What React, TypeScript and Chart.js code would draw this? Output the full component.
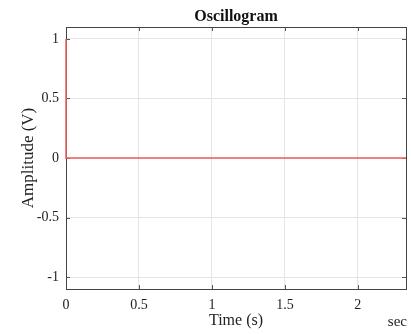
import React, { useEffect, useRef } from "react";
import { Chart, registerables } from "chart.js";

Chart.register(...registerables);

// Signal samples: a unit step that drops to zero at t = 0
const timeSec = [0, 0, 2.33];
const amplitudeV = [1, 0, 0];

const xTicks = [0, 0.5, 1, 1.5, 2];
const yTicks = [-1, -0.5, 0, 0.5, 1];
const xRange = [0, 2.33];
const yRange = [-1.1, 1.1];

const FONT = "'Liberation Serif', 'Times New Roman', serif";

// Boxed frame and inward tick marks, drawn beneath the trace
const framePlugin = {
  id: "frame",
  beforeDatasetsDraw(chart: any) {
    const { ctx, chartArea: a, scales } = chart;
    const xs = scales.x;
    const ys = scales.y;
    ctx.save();
    ctx.strokeStyle = "#555";
    ctx.lineWidth = 1;
    const len = 4;
    ctx.beginPath();
    xTicks.forEach((v) => {
      const px = Math.round(xs.getPixelForValue(v)) + 0.5;
      ctx.moveTo(px, a.bottom);
      ctx.lineTo(px, a.bottom - len);
      ctx.moveTo(px, a.top);
      ctx.lineTo(px, a.top + len);
    });
    yTicks.forEach((v) => {
      const py = Math.round(ys.getPixelForValue(v)) + 0.5;
      ctx.moveTo(a.left, py);
      ctx.lineTo(a.left + len, py);
      ctx.moveTo(a.right, py);
      ctx.lineTo(a.right - len, py);
    });
    ctx.stroke();
    ctx.strokeStyle = "#444";
    ctx.strokeRect(
      Math.round(a.left) + 0.5,
      Math.round(a.top) + 0.5,
      Math.round(a.right - a.left),
      Math.round(a.bottom - a.top)
    );
    ctx.restore();
  },
  // Title above the plot and the unit caption at the lower right
  afterDraw(chart: any) {
    const { ctx, chartArea: a } = chart;
    ctx.save();
    ctx.fillStyle = "#111";
    ctx.font = `bold 16px ${FONT}`;
    ctx.textAlign = "center";
    ctx.textBaseline = "alphabetic";
    ctx.fillText("Oscillogram", (a.left + a.right) / 2, 21);
    ctx.fillStyle = "#222";
    ctx.font = `15px ${FONT}`;
    ctx.textAlign = "right";
    ctx.fillText("sec", 407, 326);
    ctx.restore();
  },
};

export default function App() {
  const ref = useRef<HTMLCanvasElement | null>(null);

  useEffect(() => {
    if (!ref.current) return;
    const chart = new Chart(ref.current, {
      type: "scatter",
      data: {
        datasets: [
          {
            data: timeSec.map((t, i) => ({ x: t, y: amplitudeV[i] })),
            showLine: true,
            borderColor: "rgba(240, 100, 100, 0.8)",
            borderWidth: 2,
            pointRadius: 0,
            fill: false,
            clip: 2,
          },
        ],
      },
      options: {
        responsive: false,
        animation: false,
        layout: { padding: { top: 27, right: 5, left: 0, bottom: 0 } },
        plugins: {
          legend: { display: false },
          tooltip: { enabled: false },
          title: { display: false },
        },
        scales: {
          x: {
            type: "linear",
            min: xRange[0],
            max: xRange[1],
            afterBuildTicks: (s: any) => {
              s.ticks = xTicks.map((v) => ({ value: v }));
            },
            afterFit: (s: any) => {
              s.height = 45;
            },
            grid: { color: "#e4e4e4", drawTicks: false },
            border: { display: false },
            ticks: {
              color: "#222",
              font: { family: FONT, size: 14 },
              padding: 8,
              maxRotation: 0,
              callback: (v: any) => String(v),
            },
            title: {
              display: true,
              text: "Time (s)",
              color: "#222",
              font: { family: FONT, size: 16 },
              padding: { top: 0, bottom: 4 },
            },
          },
          y: {
            type: "linear",
            min: yRange[0],
            max: yRange[1],
            afterBuildTicks: (s: any) => {
              s.ticks = yTicks.map((v) => ({ value: v }));
            },
            afterFit: (s: any) => {
              s.width = 66;
            },
            grid: { color: "#e4e4e4", drawTicks: false },
            border: { display: false },
            ticks: {
              color: "#222",
              font: { family: FONT, size: 14 },
              padding: 7,
              callback: (v: any) => String(v),
            },
            title: {
              display: true,
              text: "Amplitude (V)",
              color: "#222",
              font: { family: FONT, size: 17 },
              padding: { top: 18, bottom: 0 },
            },
          },
        },
      },
      plugins: [framePlugin],
    });
    return () => chart.destroy();
  }, []);

  return (
    <div
      style={{
        position: "fixed",
        left: 0,
        top: 0,
        width: 411,
        height: 334,
        background: "#fff",
      }}
    >
      <canvas ref={ref} width={411} height={334} />
    </div>
  );
}
